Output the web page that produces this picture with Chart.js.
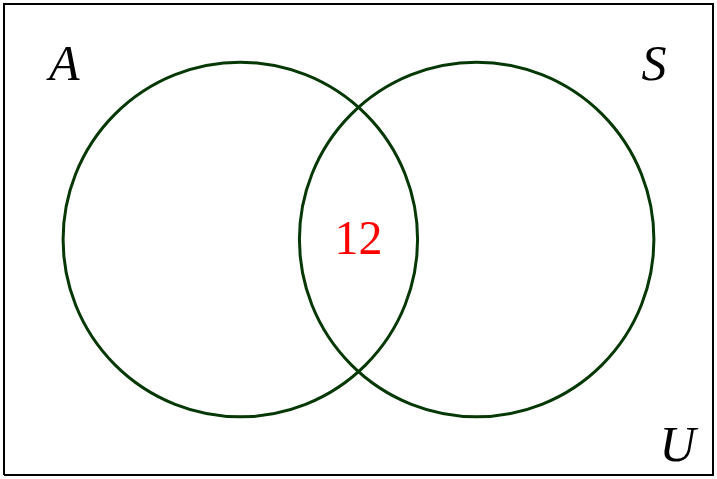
<!DOCTYPE html>
<html>
<head>
<meta charset="utf-8">
<script src="https://cdn.jsdelivr.net/npm/chart.js@4/dist/chart.umd.min.js"></script>
<style>
html,body{margin:0;padding:0;background:#fff;}
#wrap{width:717px;height:479px;}
</style>
</head>
<body>
<div id="wrap"><canvas id="c" width="717" height="479"></canvas></div>
<script>
// Venn diagram data (in diagram units)
const setNames = ["A", "S"];
const setCenters = [{x: 0, y: 0}, {x: 2, y: 0}];
const setRadius = 1.5;
const universeCorners = [{x: -2, y: -2}, {x: 4, y: -2}, {x: 4, y: 2}, {x: -2, y: 2}, {x: -2, y: -2}];
const labelTexts = ["A", "S", "U"];
const labelPositions = [{x: -1.49, y: 1.47}, {x: 3.5, y: 1.47}, {x: 3.7, y: -1.77}];
const regionValues = ["12"];
const regionPositions = [{x: 1, y: 0}];

const labelPlugin = {
  id: 'vennLabels',
  afterDatasetsDraw(chart) {
    const ctx = chart.ctx;
    const xs = chart.scales.x, ys = chart.scales.y;
    ctx.save();
    ctx.textAlign = 'center';
    ctx.textBaseline = 'middle';
    ctx.fillStyle = '#000';
    ctx.font = 'italic 50px "Liberation Serif", "DejaVu Serif", serif';
    labelTexts.forEach((t, i) => {
      ctx.fillText(t, xs.getPixelForValue(labelPositions[i].x), ys.getPixelForValue(labelPositions[i].y));
    });
    ctx.fillStyle = '#ff0000';
    ctx.font = '48px "Liberation Serif", "DejaVu Serif", serif';
    regionValues.forEach((t, i) => {
      ctx.fillText(t, xs.getPixelForValue(regionPositions[i].x), ys.getPixelForValue(regionPositions[i].y) + 2);
    });
    ctx.restore();
  }
};

new Chart(document.getElementById('c'), {
  type: 'scatter',
  data: {
    datasets: [
      {
        label: 'U',
        data: universeCorners,
        showLine: true,
        borderColor: '#000',
        borderWidth: 2,
        pointRadius: 0,
        fill: false,
        tension: 0,
        clip: false
      },
      {
        label: 'sets',
        data: setCenters,
        pointStyle: 'circle',
        pointRadius: (c) => {
          const xs = c.chart.scales.x;
          return Math.abs(xs.getPixelForValue(setRadius) - xs.getPixelForValue(0));
        },
        pointHoverRadius: (c) => {
          const xs = c.chart.scales.x;
          return Math.abs(xs.getPixelForValue(setRadius) - xs.getPixelForValue(0));
        },
        pointBorderWidth: 3,
        pointHoverBorderWidth: 3,
        borderColor: '#063806',
        pointBorderColor: '#063806',
        pointBackgroundColor: 'rgba(0,0,0,0)',
        backgroundColor: 'rgba(0,0,0,0)',
        showLine: false,
        clip: false
      }
    ]
  },
  options: {
    responsive: false,
    animation: false,
    events: [],
    layout: {padding: 0},
    plugins: {legend: {display: false}, tooltip: {enabled: false}, title: {display: false}},
    scales: {
      x: {type: 'linear', display: false, min: -2.0339, max: 4.0339},
      y: {type: 'linear', display: false, min: -2.034, max: 2.034}
    }
  },
  plugins: [labelPlugin]
});
</script>
</body>
</html>
